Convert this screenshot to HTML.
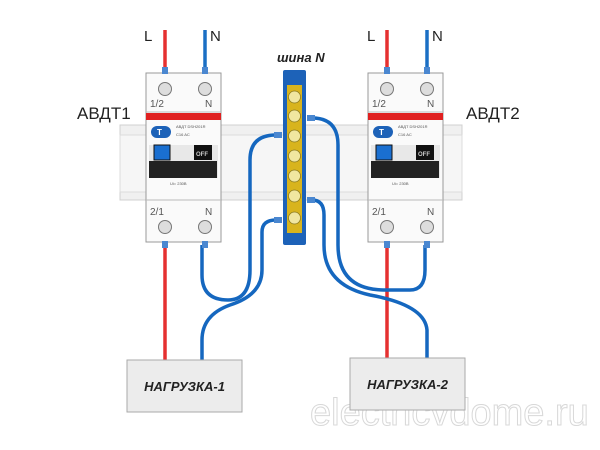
<!DOCTYPE html>
<html><head><meta charset="utf-8"><style>body{margin:0;background:#fff}svg{display:block}</style></head><body>
<svg width="600" height="450" viewBox="0 0 600 450" xmlns="http://www.w3.org/2000/svg" font-family="Liberation Sans, sans-serif">
<!-- watermark -->
<text x="310" y="425" font-size="38" fill="none" stroke="#d8d8d8" stroke-width="1">electricvdome.ru</text>
<!-- DIN rail -->
<rect x="120" y="125" width="342" height="75" fill="#f0f0f0" stroke="#d0d0d0"/>
<rect x="120" y="135" width="342" height="57" fill="#f6f6f6" stroke="#dcdcdc"/>
<!-- top wires -->
<line x1="165" y1="30" x2="165" y2="70" stroke="#e53030" stroke-width="3.5"/>
<line x1="205" y1="30" x2="205" y2="70" stroke="#1a6fc4" stroke-width="3.5"/>
<line x1="387" y1="30" x2="387" y2="70" stroke="#e53030" stroke-width="3.5"/>
<line x1="427" y1="30" x2="427" y2="70" stroke="#1a6fc4" stroke-width="3.5"/>
<text x="144" y="41" font-size="15" fill="#222">L</text>
<text x="210" y="41" font-size="15" fill="#222">N</text>
<text x="367" y="41" font-size="15" fill="#222">L</text>
<text x="432" y="41" font-size="15" fill="#222">N</text>
<text x="77" y="119" font-size="17" fill="#222">АВДТ1</text>
<text x="466" y="119" font-size="17" fill="#222">АВДТ2</text>
<text x="277" y="62" font-size="13" font-weight="bold" font-style="italic" fill="#222">шина N</text>
<!-- bottom wires -->
<line x1="165" y1="245" x2="165" y2="360" stroke="#e53030" stroke-width="3.5"/>
<line x1="387" y1="245" x2="387" y2="358" stroke="#e53030" stroke-width="3.5"/>
<g fill="none" stroke="#1567bf" stroke-width="3.5">
<path d="M202 245 V275 Q202 300 228 300 Q250 300 250 270 V160 Q250 135 276 135"/>
<path d="M202 360 V340 Q202 315 230 305 Q262 295 262 270 V232 Q262 220 276 220"/>
<path d="M312 200 Q324 200 324 215 V245 Q324 285 370 295 Q425 305 427 330 V360"/>
<path d="M312 118 Q338 118 338 145 V245 Q338 290 385 290 H410 Q425 290 425 270 V245"/>
</g>
<!-- bus -->
<rect x="283" y="70" width="23" height="175" rx="2" fill="#1d62b8"/>
<rect x="287" y="85" width="15" height="148" fill="#d8b41e"/>
<g fill="#f0e6a0" stroke="#8a7a20" stroke-width="0.8">
<circle cx="294.5" cy="97" r="6"/><circle cx="294.5" cy="116" r="6"/><circle cx="294.5" cy="136" r="6"/><circle cx="294.5" cy="156" r="6"/><circle cx="294.5" cy="176" r="6"/><circle cx="294.5" cy="196" r="6"/><circle cx="294.5" cy="218" r="6"/>
</g>
<g fill="#4a87d0"><rect x="274" y="132" width="8" height="6"/><rect x="274" y="217" width="8" height="6"/><rect x="307" y="115" width="8" height="6"/><rect x="307" y="197" width="8" height="6"/></g>
<!-- breaker 1 -->
<g id="b1">
<rect x="146" y="73" width="75" height="169" fill="#fafafa" stroke="#999"/>
<line x1="146" y1="112" x2="221" y2="112" stroke="#bbb"/>
<rect x="146" y="113" width="75" height="7" fill="#e02020"/>
<rect x="151" y="126" width="20" height="12" rx="6" fill="#1d62b8"/>
<text x="157" y="135" font-size="8" fill="#fff" font-weight="bold">T</text>
<text x="176" y="128" font-size="4" fill="#555">АВДТ  DSH201R</text>
<text x="176" y="136" font-size="4" fill="#555">C16  AC</text>
<rect x="149" y="145" width="69" height="33" fill="#e8e8e8"/>
<rect x="154" y="145" width="16" height="15" fill="#1a6fd0" stroke="#111"/>
<rect x="194" y="145" width="18" height="15" fill="#111"/>
<text x="196" y="156" font-size="6" fill="#ccc" font-weight="bold">OFF</text>
<rect x="149" y="161" width="68" height="17" fill="#222"/>
<text x="170" y="185" font-size="4" fill="#555">Ui= 230В</text>
<line x1="146" y1="200" x2="221" y2="200" stroke="#bbb"/>
<text x="150" y="107" font-size="10" fill="#555">1/2</text><text x="205" y="107" font-size="10" fill="#555">N</text>
<text x="150" y="215" font-size="10" fill="#555">2/1</text><text x="205" y="215" font-size="10" fill="#555">N</text>
<g fill="#ddd" stroke="#777"><circle cx="165" cy="89" r="6.5"/><circle cx="205" cy="89" r="6.5"/><circle cx="165" cy="227" r="6.5"/><circle cx="205" cy="227" r="6.5"/></g>
<g fill="#4a87d0"><rect x="162" y="67" width="6" height="7"/><rect x="202" y="67" width="6" height="7"/><rect x="162" y="241" width="6" height="7"/><rect x="202" y="241" width="6" height="7"/></g>
</g>
<g transform="translate(222,0)">
<rect x="146" y="73" width="75" height="169" fill="#fafafa" stroke="#999"/>
<line x1="146" y1="112" x2="221" y2="112" stroke="#bbb"/>
<rect x="146" y="113" width="75" height="7" fill="#e02020"/>
<rect x="151" y="126" width="20" height="12" rx="6" fill="#1d62b8"/>
<text x="157" y="135" font-size="8" fill="#fff" font-weight="bold">T</text>
<text x="176" y="128" font-size="4" fill="#555">АВДТ  DSH201R</text>
<text x="176" y="136" font-size="4" fill="#555">C16  AC</text>
<rect x="149" y="145" width="69" height="33" fill="#e8e8e8"/>
<rect x="154" y="145" width="16" height="15" fill="#1a6fd0" stroke="#111"/>
<rect x="194" y="145" width="18" height="15" fill="#111"/>
<text x="196" y="156" font-size="6" fill="#ccc" font-weight="bold">OFF</text>
<rect x="149" y="161" width="68" height="17" fill="#222"/>
<text x="170" y="185" font-size="4" fill="#555">Ui= 230В</text>
<line x1="146" y1="200" x2="221" y2="200" stroke="#bbb"/>
<text x="150" y="107" font-size="10" fill="#555">1/2</text><text x="205" y="107" font-size="10" fill="#555">N</text>
<text x="150" y="215" font-size="10" fill="#555">2/1</text><text x="205" y="215" font-size="10" fill="#555">N</text>
<g fill="#ddd" stroke="#777"><circle cx="165" cy="89" r="6.5"/><circle cx="205" cy="89" r="6.5"/><circle cx="165" cy="227" r="6.5"/><circle cx="205" cy="227" r="6.5"/></g>
<g fill="#4a87d0"><rect x="162" y="67" width="6" height="7"/><rect x="202" y="67" width="6" height="7"/><rect x="162" y="241" width="6" height="7"/><rect x="202" y="241" width="6" height="7"/></g>
</g>
<!-- loads -->
<rect x="127" y="360" width="115" height="52" fill="#ececec" stroke="#aaa"/>
<text x="184.5" y="391" font-size="13" font-weight="bold" font-style="italic" fill="#222" text-anchor="middle">НАГРУЗКА-1</text>
<rect x="350" y="358" width="115" height="52" fill="#ececec" stroke="#aaa"/>
<text x="407.5" y="389" font-size="13" font-weight="bold" font-style="italic" fill="#222" text-anchor="middle">НАГРУЗКА-2</text>
</svg>
</body></html>
